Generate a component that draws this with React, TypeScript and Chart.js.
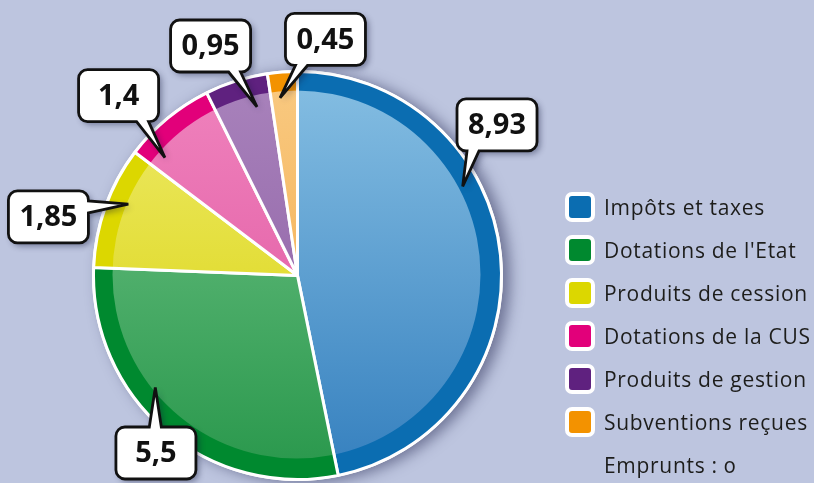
import { useEffect, useRef } from 'react';
import { Chart, registerables } from 'chart.js';

Chart.register(...registerables);

// ---- data ----
const categories = [
  'Impôts et taxes',
  "Dotations de l'Etat",
  'Produits de cession',
  'Dotations de la CUS',
  'Produits de gestion',
  'Subventions reçues',
];
const values = [8.93, 5.5, 1.85, 1.4, 0.95, 0.45];
const valueLabels = ['8,93', '5,5', '1,85', '1,4', '0,95', '0,45'];
const noteLabel = 'Emprunts : 0';

// ---- styles ----
const ringColors = ['#0B6DB1', '#00892F', '#DCD700', '#E2007A', '#5F217F', '#F39200'];
const innerTopColors = ['#86BFE3', '#74C58A', '#EFEB6E', '#F084BE', '#A983BC', '#F9CA82'];
const innerBottomColors = ['#347FBE', '#28974B', '#D6D000', '#DD4F9B', '#88589F', '#F2A43E'];
const legendColors = ['#0B6DB1', '#00892F', '#DCD700', '#E2007A', '#5F217F', '#F39200'];

// callout placement (annotation layout, relative to pie radius)
const calloutBox = [
  [0.978, -0.738],
  [-0.694, 0.87],
  [-1.221, -0.287],
  [-0.877, -0.882],
  [-0.426, -1.125],
  [0.137, -1.157],
];
// [fraction along the slice, fraction of radius]
const calloutTip = [
  [0.366, 0.92],
  [0.61, 0.887],
  [0.59, 0.9],
  [0.17, 0.87],
  [0.72, 0.85],
  [0.34, 0.875],
];

const W = 814;
const H = 483;
const BORDER = 3;
const RING = 20;
const BG = '#BDC5DF';
const FONT = '"Open Sans", "Noto Sans", sans-serif';

const patternCache: Record<string, CanvasPattern | string> = {};

function slicePattern(chart: any, i: number): CanvasPattern | string {
  const a = chart.chartArea;
  if (!a || i === undefined || i === null) return ringColors[i || 0];
  const w = a.right - a.left;
  const h = a.bottom - a.top;
  const cx = (a.left + a.right) / 2;
  const cy = (a.top + a.bottom) / 2;
  const r = (Math.min(w, h) - BORDER) / 2;
  const key = `${i}|${cx}|${cy}|${r}|${chart.width}|${chart.height}`;
  if (patternCache[key]) return patternCache[key];
  const c = document.createElement('canvas');
  c.width = chart.width;
  c.height = chart.height;
  const g = c.getContext('2d')!;
  const lg = g.createLinearGradient(0, cy - r, 0, cy + r);
  lg.addColorStop(0, innerTopColors[i]);
  lg.addColorStop(1, innerBottomColors[i]);
  g.fillStyle = lg;
  g.fillRect(0, 0, c.width, c.height);
  g.beginPath();
  g.arc(cx, cy, r + 4, 0, Math.PI * 2);
  g.arc(cx - 1, cy - 1, r - RING, 0, Math.PI * 2, true);
  g.closePath();
  g.fillStyle = ringColors[i];
  g.fill();
  const p = chart.ctx.createPattern(c, 'no-repeat');
  patternCache[key] = p || ringColors[i];
  return patternCache[key];
}

const shadowPlugin = {
  id: 'pieShadow',
  beforeDatasetsDraw(chart: any) {
    const el = chart.getDatasetMeta(0).data[0];
    if (!el) return;
    const { x, y, outerRadius } = el.getProps(['x', 'y', 'outerRadius'], true);
    const ctx = chart.ctx;
    ctx.save();
    ctx.shadowColor = 'rgba(45,50,90,0.55)';
    ctx.shadowBlur = 14;
    ctx.shadowOffsetX = 7;
    ctx.shadowOffsetY = 2;
    ctx.beginPath();
    ctx.arc(x, y, outerRadius + BORDER / 2, 0, Math.PI * 2);
    ctx.fillStyle = '#ffffff';
    ctx.fill();
    ctx.restore();
  },
};

function drawCallout(ctx: CanvasRenderingContext2D, bx: number, by: number, tx: number, ty: number, text: string) {
  const bw = 80;
  const bh = 52;
  const rad = 9;
  const L = bx - bw / 2;
  const R = bx + bw / 2;
  const T = by - bh / 2;
  const B = by + bh / 2;
  let side = 'left';
  if (ty > B) side = 'bottom';
  else if (ty < T) side = 'top';
  else if (tx > R) side = 'right';
  const half = 6;
  const clamp = (v: number, lo: number, hi: number) => Math.max(lo, Math.min(hi, v));
  const bc = side === 'top' || side === 'bottom' ? clamp(tx, L + 16, R - 16) : clamp(ty, T + 16, B - 16);
  const b0 = bc - half;
  const b1 = bc + half;

  const path = () => {
    ctx.beginPath();
    ctx.moveTo(L + rad, T);
    if (side === 'top') {
      ctx.lineTo(b0, T);
      ctx.lineTo(tx, ty);
      ctx.lineTo(b1, T);
    }
    ctx.lineTo(R - rad, T);
    ctx.arcTo(R, T, R, T + rad, rad);
    if (side === 'right') {
      ctx.lineTo(R, b0);
      ctx.lineTo(tx, ty);
      ctx.lineTo(R, b1);
    }
    ctx.lineTo(R, B - rad);
    ctx.arcTo(R, B, R - rad, B, rad);
    if (side === 'bottom') {
      ctx.lineTo(b1, B);
      ctx.lineTo(tx, ty);
      ctx.lineTo(b0, B);
    }
    ctx.lineTo(L + rad, B);
    ctx.arcTo(L, B, L, B - rad, rad);
    if (side === 'left') {
      ctx.lineTo(L, b1);
      ctx.lineTo(tx, ty);
      ctx.lineTo(L, b0);
    }
    ctx.lineTo(L, T + rad);
    ctx.arcTo(L, T, L + rad, T, rad);
    ctx.closePath();
  };

  ctx.save();
  path();
  ctx.shadowColor = 'rgba(20,25,60,0.45)';
  ctx.shadowBlur = 6;
  ctx.shadowOffsetX = 3;
  ctx.shadowOffsetY = 3;
  ctx.fillStyle = '#ffffff';
  ctx.fill();
  ctx.restore();

  ctx.save();
  path();
  ctx.lineWidth = 2.8;
  ctx.lineJoin = 'miter';
  ctx.miterLimit = 6;
  ctx.strokeStyle = '#111111';
  ctx.stroke();
  ctx.fillStyle = '#111111';
  ctx.font = `bold 29px ${FONT}`;
  ctx.textAlign = 'center';
  ctx.textBaseline = 'middle';
  ctx.fillText(text, bx, by + 1);
  ctx.restore();
}

const calloutPlugin = {
  id: 'callouts',
  afterDatasetsDraw(chart: any) {
    const meta = chart.getDatasetMeta(0);
    const ctx = chart.ctx as CanvasRenderingContext2D;
    meta.data.forEach((el: any, i: number) => {
      const { x, y, startAngle, endAngle, outerRadius } = el.getProps(
        ['x', 'y', 'startAngle', 'endAngle', 'outerRadius'],
        true
      );
      const [frac, rf] = calloutTip[i];
      const ang = startAngle + (endAngle - startAngle) * frac;
      const tx = x + Math.cos(ang) * outerRadius * rf;
      const ty = y + Math.sin(ang) * outerRadius * rf;
      const bx = x + calloutBox[i][0] * outerRadius;
      const by = y + calloutBox[i][1] * outerRadius;
      drawCallout(ctx, bx, by, tx, ty, valueLabels[i]);
    });
  },
};

export default function App() {
  const canvasRef = useRef<HTMLCanvasElement | null>(null);

  useEffect(() => {
    if (!canvasRef.current) return;
    const chart = new Chart(canvasRef.current, {
      type: 'pie',
      data: {
        labels: categories,
        datasets: [
          {
            data: values,
            backgroundColor: (c: any) => slicePattern(c.chart, c.dataIndex),
            borderColor: '#ffffff',
            borderWidth: BORDER,
            hoverBorderWidth: BORDER,
            hoverOffset: 0,
            offset: 0,
          } as any,
        ],
      },
      options: {
        responsive: false,
        animation: false,
        events: [],
        layout: { padding: { left: 92, right: 311, top: 70, bottom: 2 } },
        plugins: {
          legend: { display: false },
          tooltip: { enabled: false },
        },
      },
      plugins: [shadowPlugin, calloutPlugin],
    });
    return () => chart.destroy();
  }, []);

  return (
    <div
      style={{
        position: 'fixed',
        left: 0,
        top: 0,
        width: W,
        height: H,
        background: BG,
        overflow: 'hidden',
      }}
    >
      <canvas ref={canvasRef} width={W} height={H} style={{ position: 'absolute', left: 0, top: 0 }} />
      <div
        style={{
          position: 'absolute',
          left: 565,
          top: 185.5,
          fontFamily: FONT,
          fontSize: 21,
          letterSpacing: 0.7,
          color: '#1d1d1b',
          fontVariantNumeric: 'oldstyle-nums',
          whiteSpace: 'nowrap',
        }}
      >
        {categories.map((name, i) => (
          <div key={name} style={{ display: 'flex', alignItems: 'center', height: 43 }}>
            <span
              style={{
                display: 'inline-block',
                flex: 'none',
                width: 22,
                height: 22,
                border: '4px solid #ffffff',
                borderRadius: 7,
                background: legendColors[i],
                marginRight: 9,
              }}
            />
            <span>{name}</span>
          </div>
        ))}
        <div style={{ display: 'flex', alignItems: 'center', height: 43, paddingLeft: 39 }}>
          <span>{noteLabel}</span>
        </div>
      </div>
    </div>
  );
}
